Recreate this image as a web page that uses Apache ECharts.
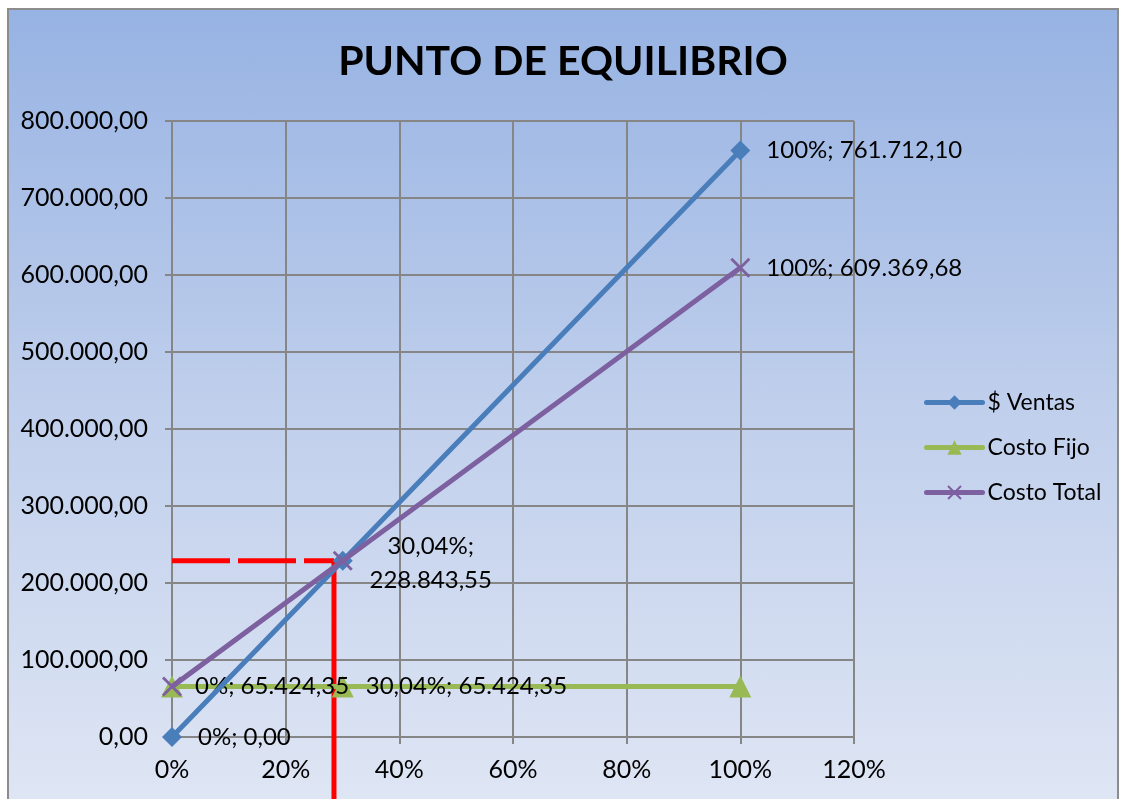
<!DOCTYPE html>
<html>
<head>
<meta charset="utf-8">
<script src="https://cdn.jsdelivr.net/npm/echarts@6/dist/echarts.min.js"></script>
<style>
  html, body { margin: 0; padding: 0; background: #fff; }
  #chart {
    position: absolute; left: 7px; top: 8px; width: 1112px; height: 800px;
    box-sizing: border-box; border: 2px solid #8c8c8c; border-bottom: none;
    background: linear-gradient(180deg, #97b3e3 0%, #c0cfec 50%, #dfe6f4 100%);
  }
</style>
</head>
<body>
<div id="chart"></div>
<script>
// datos del punto de equilibrio
const pcts = [0, 30.04, 100];
const ventas = [0, 228843.55, 761712.10];
const costoFijo = [65424.35, 65424.35, 65424.35];
const costoTotal = [65424.35, 228843.55, 609369.68];
const eqLineX = [0, 28.5, 28.5];
const eqLineY = [229000, 229000, -85000];

const fmt = (v, d) => {
  const s = Math.abs(v).toFixed(d).split(".");
  const i = s[0].replace(/\B(?=(\d{3})+(?!\d))/g, ".");
  return (v < 0 ? "-" : "") + i + (d ? "," + s[1] : "");
};
const pctTxt = (p) => fmt(p, p % 1 ? 2 : 0) + "%";
const lbl = (p, v) => pctTxt(p) + "; " + fmt(v, 2);

const font = "Lato";
const labelStyle = { show: true, position: "right", distance: 16, color: "#000", fontSize: 24, fontFamily: font };

const chart = echarts.init(document.getElementById("chart"));
const option = {
  animation: false,
  textStyle: { fontFamily: font },
  title: {
    text: "PUNTO DE EQUILIBRIO",
    left: "center", top: 26,
    textStyle: { fontSize: 41, fontWeight: "bold", color: "#000", fontFamily: font }
  },
  legend: {
    orient: "vertical", left: 910, top: 376, itemGap: 22,
    itemWidth: 56, itemHeight: 18,
    lineStyle: { width: 5, cap: "round" },
    textStyle: { fontSize: 23, color: "#000", fontFamily: font },
    data: ["$ Ventas", "Costo Fijo", "Costo Total"]
  },
  grid: { left: 163, right: 263, top: 111, bottom: 71 },
  xAxis: {
    type: "value", min: 0, max: 120, interval: 20,
    axisLine: { lineStyle: { color: "#868686", width: 2 } },
    axisTick: { show: true, length: 7, lineStyle: { color: "#868686", width: 2 } },
    axisLabel: { color: "#000", fontSize: 25, margin: 20, formatter: (v) => v + "%" },
    splitLine: { lineStyle: { color: "#868686", width: 2 } }
  },
  yAxis: {
    type: "value", min: 0, max: 800000, interval: 100000,
    axisLine: { show: true, lineStyle: { color: "#868686", width: 2 } },
    axisTick: { show: true, length: 7, lineStyle: { color: "#868686", width: 2 } },
    axisLabel: { color: "#000", fontSize: 25, margin: 24, formatter: (v) => fmt(v, 2) },
    splitLine: { lineStyle: { color: "#868686", width: 2 } }
  },
  series: [
    {
      name: "eq", type: "line", silent: true, clip: false, symbol: "none", z: 1,
      data: [[eqLineX[0], eqLineY[0]], [eqLineX[1], eqLineY[1]]],
      lineStyle: { color: "#ff0000", width: 5, type: [58, 8] }
    },
    {
      name: "eq2", type: "line", silent: true, clip: false, symbol: "none", z: 1,
      data: [[eqLineX[1], eqLineY[1]], [eqLineX[2], eqLineY[2]]],
      lineStyle: { color: "#ff0000", width: 5 }
    },
    {
      name: "Costo Fijo", type: "line", symbol: "triangle", symbolSize: 22, z: 2,
      color: "#98b954", lineStyle: { width: 5 },
      data: pcts.map((p, i) => ({
        value: [p, costoFijo[i]],
        label: i < 2 ? Object.assign({}, labelStyle, { distance: 12 }) : { show: false }
      })),
      label: { formatter: (d) => lbl(d.value[0], d.value[1]) }
    },
    {
      name: "Costo Total", type: "line", symbol: "path://M0,1L1,0L10,9L9,10ZM9,0L10,1L1,10L0,9Z",
      symbolSize: 20, z: 4, color: "#7d60a0", lineStyle: { width: 5 },
      data: pcts.map((p, i) => ({
        value: [p, costoTotal[i]],
        label: i === 2 ? labelStyle
          : i === 1 ? Object.assign({}, labelStyle, { position: "right", distance: 28, align: "center", offset: [50, 2], lineHeight: 34,
                formatter: (d) => pctTxt(d.value[0]) + ";\n" + fmt(d.value[1], 2) })
          : { show: false }
      })),
      label: { formatter: (d) => lbl(d.value[0], d.value[1]) }
    },
    {
      name: "$ Ventas", type: "line", symbol: "diamond", symbolSize: 20, z: 3,
      color: "#4a7ebb", lineStyle: { width: 5 },
      data: pcts.map((p, i) => ({
        value: [p, ventas[i]],
        label: i !== 1 ? labelStyle : { show: false }
      })),
      label: { formatter: (d) => lbl(d.value[0], d.value[1]) }
    }
  ]
};
chart.setOption(option);
</script>
</body>
</html>
